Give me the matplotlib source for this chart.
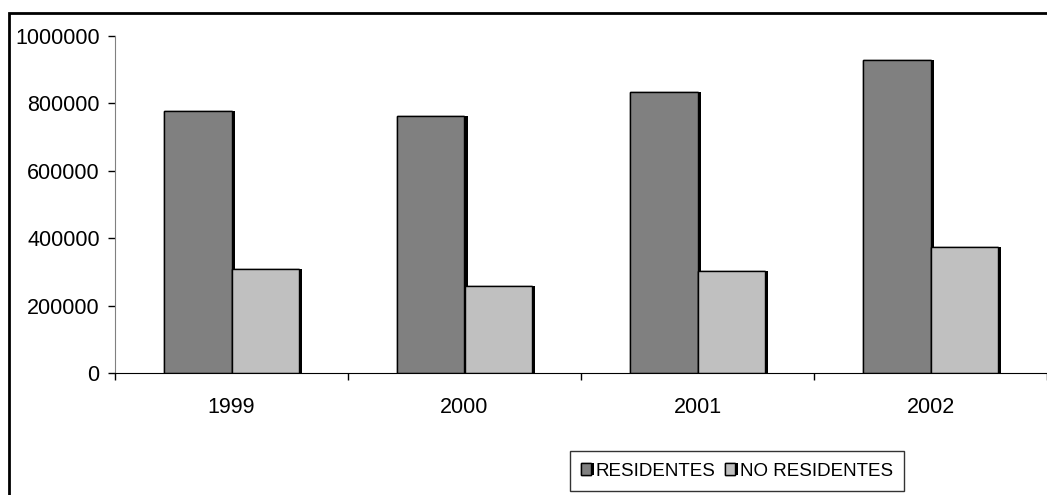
import numpy as np
import matplotlib
matplotlib.use('Agg')
import matplotlib.pyplot as plt
import matplotlib.patheffects as pe
from matplotlib.patches import Rectangle

years = ['1999', '2000', '2001', '2002']
residentes = [777000, 763000, 834000, 929000]
no_residentes = [309000, 258000, 303000, 374000]

plt.rcParams['font.family'] = ['Liberation Sans', 'DejaVu Sans']

fig = plt.figure(figsize=(10.47, 4.95), dpi=100)
ax = fig.add_axes([115/1047, 1-373/495, 1-115/1047, (373-36)/495])

x = np.arange(len(years))
w = 0.29
shadow = [pe.withSimplePatchShadow(offset=(2.2, 0), shadow_rgbFace='black', alpha=1), pe.Normal()]
b1 = ax.bar(x - 0.145, residentes, w, color='#808080', edgecolor='black', linewidth=1,
            label='RESIDENTES', path_effects=shadow, zorder=2)
b2 = ax.bar(x + 0.145, no_residentes, w, color='#c0c0c0', edgecolor='black', linewidth=1,
            label='NO RESIDENTES', path_effects=shadow, zorder=2)

ax.set_xlim(-0.5, len(years) - 0.5)
ax.set_ylim(0, 1000000)
ax.set_yticks(np.arange(0, 1000001, 200000))
ax.set_yticklabels([str(v) for v in range(0, 1000001, 200000)], fontsize=15.5)

ax.set_xticks(np.arange(-0.5, len(years), 1.0))
ax.set_xticklabels([])
ax.set_xticks(x, minor=True)
ax.set_xticklabels(years, minor=True, fontsize=15.5)
ax.tick_params(axis='x', which='major', direction='out', length=5, width=1, color='black')
ax.tick_params(axis='x', which='minor', length=0, pad=17)
ax.tick_params(axis='y', direction='out', length=5, width=1, color='black', pad=6)

for s in ['top', 'right']:
    ax.spines[s].set_visible(False)
ax.spines['left'].set_color('#808080')
ax.spines['bottom'].set_color('black')
ax.spines['bottom'].set_zorder(3)

leg = fig.legend(handles=[b1, b2], loc='center', bbox_to_anchor=(737/1047, 1-471/495),
                 ncol=2, fontsize=13.5, frameon=True, fancybox=False, edgecolor='black',
                 handlelength=0.55, handleheight=0.6, handletextpad=0.25, columnspacing=0.5,
                 borderpad=0.6, borderaxespad=0)
leg.get_frame().set_linewidth(1)

# outer chart border
fig.patches.append(Rectangle((9/1047, -0.05), 1.1, 1 - 13/495 + 0.05, transform=fig.transFigure,
                             fill=False, edgecolor='black', linewidth=2))

fig.savefig('out.png', dpi=100)
